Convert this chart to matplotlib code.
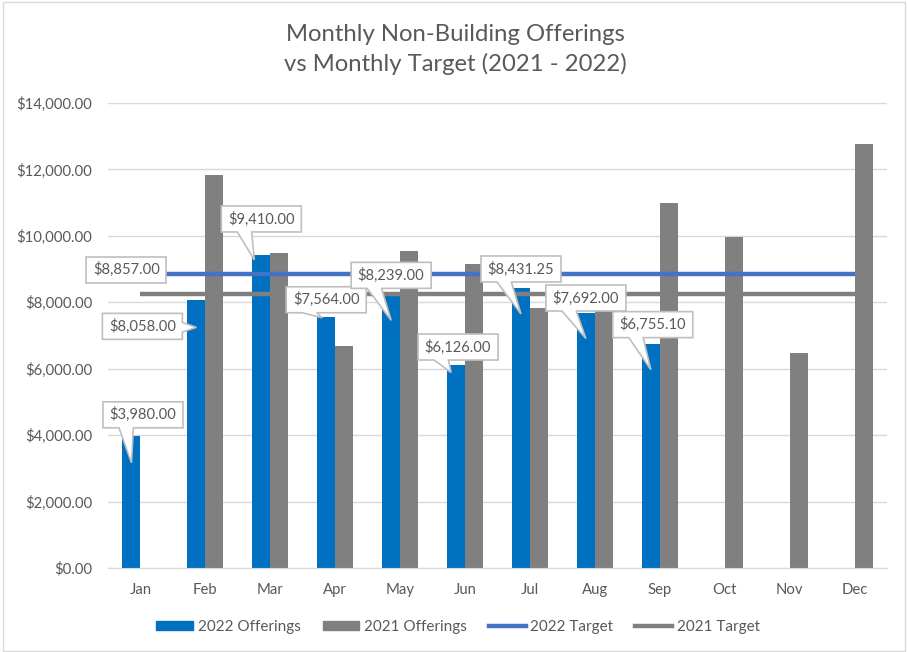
import matplotlib
matplotlib.use("Agg")
import matplotlib.pyplot as plt
import matplotlib.patches as mpatches
import matplotlib.lines as mlines
import numpy as np

months = ["Jan", "Feb", "Mar", "Apr", "May", "Jun", "Jul", "Aug", "Sep", "Oct", "Nov", "Dec"]
offerings_2022 = [3980.00, 8058.00, 9410.00, 7564.00, 8239.00, 6126.00, 8431.25, 7692.00, 6755.10]
offerings_2021 = [0, 11840, 9485, 6690, 9545, 9155, 7830, 7860, 10990, 9975, 6475, 12760]
target_2022 = [8857.00] * 12
target_2021 = [8250.00] * 12
yticks = [0, 2000, 4000, 6000, 8000, 10000, 12000, 14000]

# label layout (pixels): box center offset from bar top (dx, dy up), tip offset (dx, depth below top)
label_layout = [
    (11.5, 21, 0, 27),
    (-54, -26, 0, 27),
    (0, 36.5, -7, 4.5),
    (0, 17, -4, 1),
    (0, 19, 0, 26),
    (2, 17.5, -5, 8),
    (0, 19, 0, 26),
    (0, 14.5, 0, 26),
    (2, 19, 0, 26),
]

FONT = ["Lato", "DejaVu Sans"]
plt.rcParams["font.family"] = FONT
TXT = "#595959"

W, H = 908, 652
fig = plt.figure(figsize=(W / 100, H / 100), dpi=100)
fig.patch.set_facecolor("white")
ax = fig.add_axes([108 / W, 1 - 568 / H, (887 - 108) / W, (568 - 103) / H])

x = np.arange(len(months))
bw = 0.277
ax.bar(x[:len(offerings_2022)] - bw / 2, offerings_2022, width=bw, color="#0070C0", zorder=2)
ax.bar(x + bw / 2, offerings_2021, width=bw, color="#808080", zorder=2)
ax.plot(x, target_2022, color="#4472C4", lw=3.2, zorder=3, solid_capstyle="butt")
ax.plot(x, target_2021, color="#7F7F7F", lw=3.2, zorder=3, solid_capstyle="butt")

ax.set_xlim(-0.5, 11.5)
ax.set_ylim(0, 14000)
ax.set_yticks(yticks)
ax.set_yticklabels([f"${v:,.2f}" for v in yticks])
ax.set_xticks(x)
ax.set_xticklabels(months)
ax.tick_params(axis="both", length=0, labelsize=10.7, colors=TXT)
ax.tick_params(axis="y", pad=11.5)
ax.tick_params(axis="x", pad=10.5)
ax.grid(axis="y", color="#D9D9D9", lw=1, zorder=0)
ax.set_axisbelow(True)
for s in ["top", "right", "left"]:
    ax.spines[s].set_visible(False)
ax.spines["bottom"].set_color("#D9D9D9")

fig.text(455 / W, 1 - 49.5 / H, "Monthly Non-Building Offerings\nvs Monthly Target (2021 - 2022)",
         ha="center", va="center", fontsize=17.2, color=TXT, linespacing=1.42)

fig.canvas.draw()
inv = fig.transFigure.inverted()
BW, BH = 80, 26


def callout(cx, cy, tip, text):
    l, r, b, t = cx - BW / 2, cx + BW / 2, cy - BH / 2, cy + BH / 2
    verts = None
    if tip is not None:
        tx, ty = tip
        dx, dy = (tx - cx) / BW, (ty - cy) / BH
        if abs(dy) >= abs(dx) and dy < 0:  # bottom edge
            a, c = l + BW * 0.2, l + BW * 0.38
            verts = [(l, t), (r, t), (r, b), (c, b), (tx, ty), (a, b), (l, b), (l, t)]
        elif abs(dx) > abs(dy) and dx > 0:  # right edge
            a, c = t - BH * 0.35, t - BH * 0.72
            verts = [(l, t), (r, t), (r, a), (tx, ty), (r, c), (r, b), (l, b), (l, t)]
    if verts is None:
        verts = [(l, t), (r, t), (r, b), (l, b), (l, t)]
    fv = inv.transform(verts)
    poly = mpatches.Polygon(fv, closed=True, transform=fig.transFigure,
                            facecolor="white", edgecolor="#BFBFBF", lw=1.2, zorder=10)
    fig.add_artist(poly)
    p = inv.transform((cx, cy))
    fig.text(p[0], p[1], text, ha="center", va="center", fontsize=10.6, color=TXT, zorder=11)


for i, v in enumerate(offerings_2022):
    bx, by = ax.transData.transform((x[i] - bw / 2, v))
    ddx, ddy, tdx, depth = label_layout[i]
    callout(bx + ddx, by + ddy, (bx + tdx, by - depth), f"${v:,.2f}")

tx0, ty0 = ax.transData.transform((0, target_2022[0]))
callout(tx0 - 14, ty0 + 4, None, f"${target_2022[0]:,.2f}")

handles = [
    mpatches.Patch(color="#0070C0", label="2022 Offerings"),
    mpatches.Patch(color="#808080", label="2021 Offerings"),
    mlines.Line2D([], [], color="#4472C4", lw=3.2, label="2022 Target"),
    mlines.Line2D([], [], color="#7F7F7F", lw=3.2, label="2021 Target"),
]
leg = fig.legend(handles=handles, loc="center", bbox_to_anchor=(458 / W, 1 - 627 / H), ncol=4,
                 frameon=False, fontsize=11, labelcolor=TXT, handlelength=2.4, handleheight=0.5,
                 handletextpad=0.3, columnspacing=1.45)

fig.add_artist(mpatches.Rectangle((3 / W, 1 / H), (W - 6) / W, (H - 3) / H, transform=fig.transFigure,
                                  fill=False, ec="#D9D9D9", lw=1))

fig.savefig("out.png", dpi=100)
